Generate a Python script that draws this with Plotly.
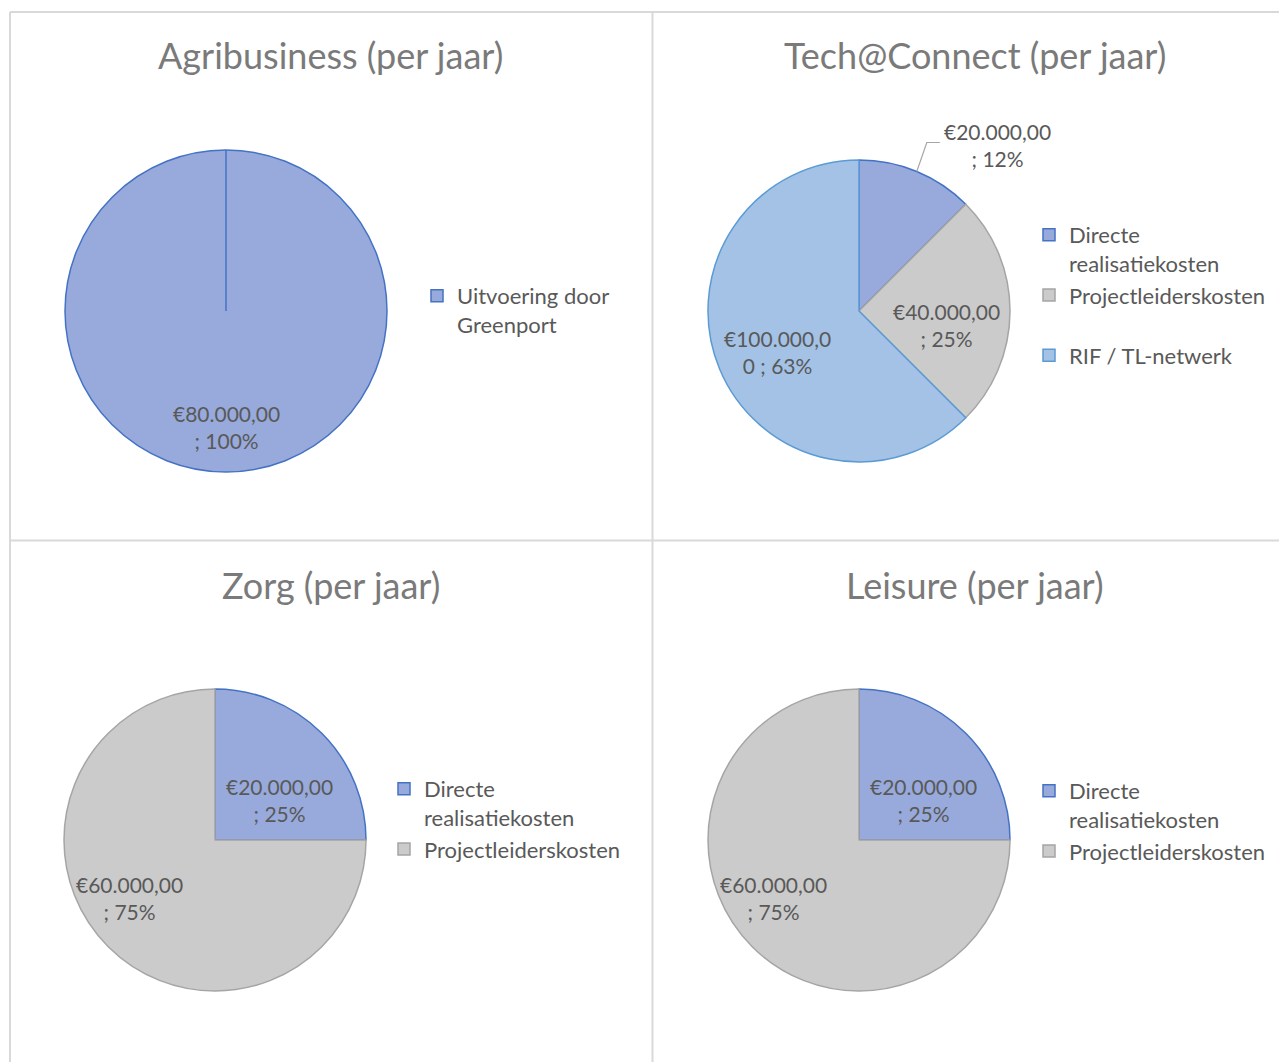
import math
import plotly.graph_objects as go

W, H = 1287, 1062
OFF = 8  # default page body margin that shifts the figure

# ---------------- data ----------------
titles = ["Agribusiness (per jaar)", "Tech@Connect (per jaar)", "Zorg (per jaar)", "Leisure (per jaar)"]

agri_labels = ["Uitvoering door<br>Greenport"]
agri_values = [80000]
agri_pct = [100]

tech_labels = ["Directe<br>realisatiekosten", "Projectleiderskosten", "RIF / TL-netwerk"]
tech_values = [20000, 40000, 100000]
tech_pct = [12, 25, 63]

zorg_labels = ["Directe<br>realisatiekosten", "Projectleiderskosten"]
zorg_values = [20000, 60000]
zorg_pct = [25, 75]

leisure_labels = ["Directe<br>realisatiekosten", "Projectleiderskosten"]
leisure_values = [20000, 60000]
leisure_pct = [25, 75]

# ---------------- style ----------------
FONT = "Lato, Calibri, Carlito, sans-serif"
TXT = "#595959"
TITLE_TXT = "#7a7a7a"
BLUE, BLUE_LINE = "#98aadb", "#4472c4"
GREY, GREY_LINE = "#cbcbcb", "#a5a5a5"
LBLUE, LBLUE_LINE = "#a3c2e6", "#5b9bd5"


def px(x):
    return (x - OFF) / W


def py(y):
    return 1 - (y - OFF) / H


def money(v):
    s = f"{v:,.2f}"
    return "€" + s.replace(",", "X").replace(".", ",").replace("X", ".")


def label_text(v, p):
    t = f"{money(v)} ; {p}%"
    return t[:10] + "<br>" + t[10:].strip()


def unique(labels, k):
    # pies sharing a label share one legend entry; trailing invisible spaces keep each chart's legend complete
    return [l + " " * k for l in labels]


# extra blank line in the Tech@Connect legend to mimic the stretched legend spacing
tech_legend_labels = [tech_labels[0], tech_labels[1] + "<br> ", tech_labels[2]]

panels = [
    dict(labels=unique(agri_labels, 0), values=agri_values, pct=agri_pct,
         cx=226, cy=311, r=161, colors=[BLUE], lines=[BLUE_LINE],
         lab=[(0.72, 0, 0)], legend=(417, 275), title=(331, 55)),
    dict(labels=unique(tech_legend_labels, 1), values=tech_values, pct=tech_pct,
         cx=859, cy=311, r=151, colors=[BLUE, GREY, LBLUE], lines=[BLUE_LINE, GREY_LINE, LBLUE_LINE],
         lab=[(1.0, 81, -26), (0.57, 1, 14), (0.6, 2, 6)], legend=(1029, 214), title=(975, 55)),
    dict(labels=unique(zorg_labels, 2), values=zorg_values, pct=zorg_pct,
         cx=215, cy=840, r=151, colors=[BLUE, GREY], lines=[BLUE_LINE, GREY_LINE],
         lab=[(0.6, 0, 24), (0.7, -11, -17)], legend=(384, 768), title=(331, 585)),
    dict(labels=unique(leisure_labels, 3), values=leisure_values, pct=leisure_pct,
         cx=859, cy=840, r=151, colors=[BLUE, GREY], lines=[BLUE_LINE, GREY_LINE],
         lab=[(0.6, 0, 24), (0.7, -11, -17)], legend=(1029, 770), title=(975, 585)),
]

fig = go.Figure()
annotations = []
shapes = []

BORDER = "#d9d9d9"
for (x0, y0, x1, y1) in [(10, 12, 1300, 12), (10, 540.5, 1300, 540.5),
                         (10, 12, 10, 1080), (652.5, 12, 652.5, 1080)]:
    shapes.append(dict(type="line", xref="paper", yref="paper",
                       x0=px(x0), y0=py(y0), x1=px(x1), y1=py(y1),
                       line=dict(color=BORDER, width=2)))

for i, p in enumerate(panels):
    leg = "legend" if i == 0 else f"legend{i + 1}"
    cx, cy, r = p["cx"], p["cy"], p["r"]
    fig.add_trace(go.Pie(
        labels=p["labels"], values=p["values"], sort=False, direction="clockwise", rotation=0,
        marker=dict(colors=p["colors"], line=dict(color=p["lines"], width=1.5)),
        textinfo="none", hoverinfo="label+value+percent",
        domain=dict(x=[px(cx - r), px(cx + r)], y=[py(cy + r), py(cy - r)]),
        legend=leg, showlegend=True,
    ))
    annotations.append(dict(text=titles[i], x=px(p["title"][0]), y=py(p["title"][1]),
                            xref="paper", yref="paper", showarrow=False,
                            xanchor="center", yanchor="middle",
                            font=dict(family=FONT, size=36, color=TITLE_TXT)))
    total = sum(p["values"])
    cum = 0
    for j, v in enumerate(p["values"]):
        mid = (cum + v / 2) / total * 2 * math.pi
        cum += v
        f, nx, ny = p["lab"][j]
        lx = cx + f * r * math.sin(mid) + nx
        ly = cy - f * r * math.cos(mid) + ny
        if f > 0.95:
            ex = cx + r * math.sin(mid)
            ey = cy - r * math.cos(mid)
            shapes.append(dict(type="path", xref="paper", yref="paper",
                               path=f"M {px(ex)},{py(ey)} L {px(ex + 10)},{py(ey - 29)} L {px(ex + 23)},{py(ey - 29)}",
                               line=dict(color="#a6a6a6", width=1.2)))
        annotations.append(dict(text=label_text(v, p["pct"][j]), x=px(lx), y=py(ly),
                                xref="paper", yref="paper", showarrow=False,
                                xanchor="center", yanchor="middle", align="center",
                                font=dict(family=FONT, size=21, color=TXT)))
    if len(p["values"]) == 1:
        shapes.append(dict(type="line", xref="paper", yref="paper",
                           x0=px(cx), y0=py(cy), x1=px(cx), y1=py(cy - r),
                           line=dict(color=p["lines"][0], width=1.5)))

legend_common = dict(font=dict(family=FONT, size=22, color=TXT), bgcolor="rgba(0,0,0,0)",
                     xanchor="left", yanchor="top", valign="top", itemwidth=30,
                     traceorder="normal", itemclick=False, itemdoubleclick=False)
layout_legends = {}
for i, p in enumerate(panels):
    key = "legend" if i == 0 else f"legend{i + 1}"
    layout_legends[key] = dict(legend_common, x=px(p["legend"][0]), y=py(p["legend"][1]))

fig.update_layout(
    width=W, height=H,
    margin=dict(l=0, r=0, t=0, b=0),
    paper_bgcolor="white", plot_bgcolor="white",
    font=dict(family=FONT, color=TXT),
    annotations=annotations, shapes=shapes,
    **layout_legends,
)

fig.write_html("out.html")
